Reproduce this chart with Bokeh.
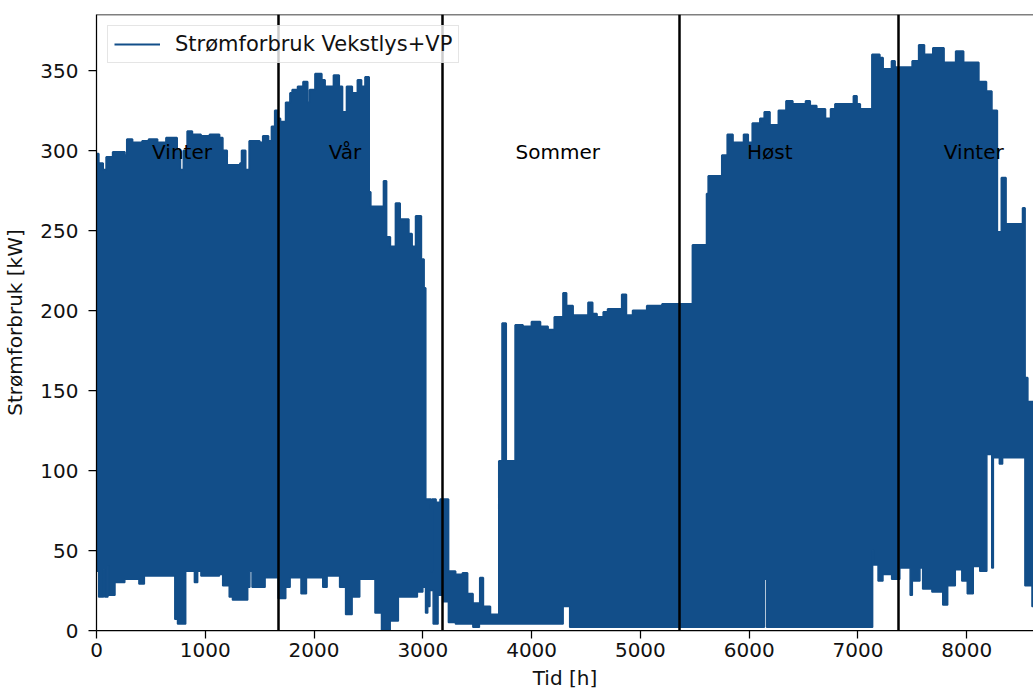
import numpy as np
from bokeh.plotting import figure
from bokeh.models import Range1d, SingleIntervalTicker, Span
from bokeh.core.properties import value
from bokeh.embed import file_html
from bokeh.resources import INLINE

# ---------------- data ----------------
# Upper envelope of the hourly power use: step start hour -> kW
upper_t = [0, 20, 60, 90, 150, 260, 280, 330, 420, 480, 560, 640, 740, 770, 800,
           835, 880, 960, 1040, 1130, 1160, 1200, 1320, 1335, 1370, 1405, 1500,
           1530, 1580, 1610, 1640, 1670, 1690, 1740, 1780, 1800, 1850, 1900, 1940,
           1960, 2010, 2070, 2100, 2150, 2180, 2230, 2260, 2300, 2350, 2400, 2435,
           2470, 2505, 2520, 2640, 2665, 2700, 2750, 2790, 2870, 2900, 2935, 2985,
           3010, 3025, 3075, 3085, 3120, 3160, 3235, 3300, 3365, 3410, 3460, 3525,
           3555, 3620, 3700, 3730, 3765, 3850, 3920, 4000, 4080, 4150, 4210, 4290,
           4320, 4380, 4520, 4560, 4600, 4660, 4700, 4830, 4870, 4930, 5060, 5200,
           5480, 5610, 5625, 5750, 5800, 5850, 5950, 5990, 6030, 6100, 6140, 6190,
           6270, 6340, 6400, 6520, 6560, 6620, 6700, 6750, 6790, 6960, 6990, 7020,
           7130, 7200, 7230, 7310, 7340, 7500, 7560, 7610, 7690, 7790, 7900, 7970,
           8110, 8180, 8230, 8280, 8320, 8360, 8515, 8535, 8560]
upper_kw = [298, 292, 288, 296, 299, 297, 307, 305, 306, 307, 305, 308, 300, 288, 300,
            312, 310, 309, 310, 308, 300, 291, 292, 300, 288, 306, 305,
            309, 306, 315, 325, 320, 318, 330, 336, 338, 340, 343, 330,
            338, 348, 344, 340, 340, 347, 340, 324, 340, 336, 344, 340,
            346, 274, 265, 281, 246, 240, 267, 257, 248, 240, 259, 232,
            214, 82, 37, 82, 80, 82, 37, 35, 36, 23, 17, 33,
            15, 10, 106, 192, 106, 191, 190, 193, 190, 188, 196, 211,
            203, 197, 205, 198, 196, 199, 201, 210, 197, 200, 203, 204,
            241, 273, 284, 297, 310, 305, 310, 305, 317, 320, 324, 316,
            325, 331, 329, 331, 328, 326, 320, 326, 329, 334, 329, 326,
            360, 358, 351, 356, 352, 356, 366, 360, 364, 355, 362, 355,
            343, 337, 325, 249, 283, 254, 264, 158, 143]

# Lower envelope of the hourly power use: step start hour -> kW
lower_t = [0, 20, 65, 75, 105, 115, 170, 260, 390, 440, 720, 745, 820, 900, 930,
           960, 1130, 1160, 1220, 1250, 1390, 1410, 1430, 1550, 1670, 1740, 1780,
           1880, 1930, 2080, 2120, 2235, 2290, 2350, 2420, 2560, 2620, 2700, 2775,
           2950, 3000, 3025, 3045, 3065, 3095, 3140, 3185, 3235, 3300, 3460, 3520,
           4290, 4350, 6140, 6160, 7135, 7145, 7185, 7230, 7310, 7385, 7480, 7500,
           7570, 7595, 7680, 7780, 7825, 7895, 7955, 8005, 8060, 8120, 8185, 8230,
           8245, 8300, 8330, 8535, 8600]
lower_kw = [37, 21, 38, 21, 40, 22, 30, 32, 29, 34, 7, 4, 37, 30, 37,
            34, 35, 28, 21, 19, 27, 37, 27, 33, 20, 27, 33,
            23, 33, 27, 34, 27, 10, 21, 32, 11, 0, 6, 21,
            24, 27, 11, 15, 25, 4, 22, 18, 5, 4, 2, 4,
            15, 2, 32, 2, 50, 41, 31, 35, 32, 39, 22, 31,
            39, 26, 24, 16, 28, 38, 31, 23, 40, 37, 110, 39,
            108, 104, 108, 28, 15]
end_hour = 8760

# Season boundaries [h] and season labels
season_bounds = [1670, 3184, 5362, 7376]
season_names = ["Vinter", "Vår", "Sommer", "Høst", "Vinter"]
season_label_x = [511, 2135, 3852, 5980, 7790]
season_label_y = [299, 299, 299, 299, 299]

series_name = "Strømforbruk Vekstlys+VP"
BLUE = "#124E89"
FONT = "DejaVu Sans"
FS = "20px"


def step_xy(t, v, end):
    t = np.asarray(t, dtype=float)
    v = np.asarray(v, dtype=float)
    t_next = np.append(t[1:], end)
    xs = np.column_stack([t, t_next]).ravel()
    ys = np.column_stack([v, v]).ravel()
    return xs, ys


ux, uy = step_xy(upper_t, upper_kw, end_hour)
lx, ly = step_xy(lower_t, lower_kw, end_hour)
px = np.concatenate([ux, lx[::-1]])
py = np.concatenate([uy, ly[::-1]])

p = figure(width=1033, height=692, output_backend="svg", toolbar_location=None,
           title=None, x_range=Range1d(0, 8614), y_range=Range1d(0, 385),
           min_border_left=96, min_border_right=0, min_border_top=14,
           min_border_bottom=62)
p.grid.visible = False
p.outline_line_color = None
p.background_fill_color = "white"
p.border_fill_color = "white"

p.patch(px, py, fill_color=BLUE, line_color=None)
p.line(ux, uy, line_color=BLUE, line_width=2, legend_label=series_name)
p.line(lx, ly, line_color=BLUE, line_width=1.5)

p.vspan(x=season_bounds, line_color="black", line_width=2.5)

p.text(x=season_label_x, y=season_label_y, text=season_names,
       text_font=value(FONT), text_font_size=FS, text_align="left",
       text_baseline="alphabetic", text_color="black")

# top frame line (right side is cut off in the reference)
p.add_layout(Span(location=385, dimension="width", line_color="black", line_width=1.25))

for ax in (p.xaxis[0], p.yaxis[0]):
    ax.axis_line_color = "black"
    ax.axis_line_width = 1.25
    ax.major_tick_line_color = "black"
    ax.major_tick_line_width = 1.25
    ax.major_tick_out = 8
    ax.major_tick_in = 0
    ax.minor_tick_line_color = None
    ax.major_label_text_font = FONT
    ax.major_label_text_font_size = FS
    ax.major_label_text_color = "#111111"
    ax.axis_label_text_font = FONT
    ax.axis_label_text_font_size = FS
    ax.axis_label_text_font_style = "normal"
    ax.axis_label_text_color = "#111111"

p.xaxis.ticker = SingleIntervalTicker(interval=1000, num_minor_ticks=0)
p.yaxis.ticker = SingleIntervalTicker(interval=50, num_minor_ticks=0)
p.xaxis.axis_label = "Tid [h]"
p.yaxis.axis_label = "Strømforbruk [kW]"
p.xaxis.major_label_standoff = 4
p.xaxis.axis_label_standoff = 6
p.yaxis.major_label_standoff = 10
p.yaxis.axis_label_standoff = 10

lg = p.legend[0]
lg.location = "top_left"
lg.margin = 11
lg.padding = 6
lg.glyph_width = 46
lg.glyph_height = 24
lg.label_height = 24
lg.label_standoff = 15
lg.label_text_font = FONT
lg.label_text_font_size = "21px"
lg.label_text_color = "#111111"
lg.border_line_color = "#cccccc"
lg.border_line_width = 1
lg.background_fill_alpha = 0.8

open("out.html", "w").write(file_html(p, INLINE))
